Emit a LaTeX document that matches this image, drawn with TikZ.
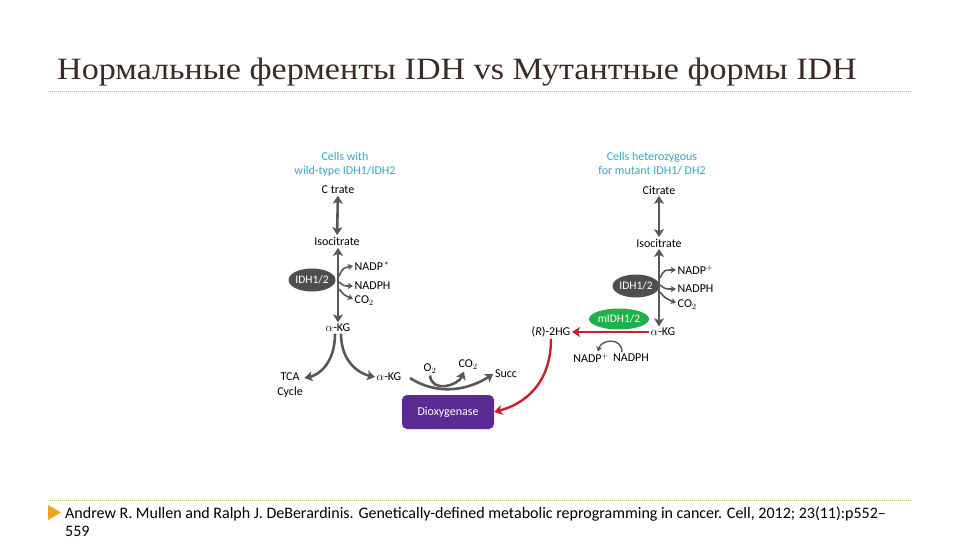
\documentclass[tikz,border=0pt]{standalone}
\usepackage{fontspec}
\setmainfont{Carlito}
\newfontfamily\titlefont[FakeStretch=1.1]{Liberation Serif}
\usetikzlibrary{arrows.meta,positioning,shapes.geometric,calc}
\definecolor{titleink}{HTML}{3B2A25}
\definecolor{rulec}{HTML}{D6C27E}
\definecolor{bulletc}{HTML}{F2A31E}
\definecolor{cellblue}{HTML}{3AA3C8}
\definecolor{flow}{HTML}{585858}
\definecolor{enz}{HTML}{4E4E4E}
\definecolor{mutg}{HTML}{1FB24A}
\definecolor{dioxy}{HTML}{5B2A93}
\definecolor{hgred}{HTML}{C81F2D}

\begin{document}
\begin{tikzpicture}[x=1pt, y=-1pt,
      met/.style={font=\fontsize{12}{15}\selectfont, text=black, inner sep=1.5pt, align=center},
      head/.style={font=\fontsize{12}{14}\selectfont, text=cellblue, align=center, inner sep=1pt},
      enzyme/.style={ellipse, fill=enz, text=white, minimum width=47pt, minimum height=23pt, inner sep=0pt, font=\fontsize{11.5}{12}\selectfont},
      menzyme/.style={ellipse, fill=mutg, text=white, minimum width=57pt, minimum height=21pt, inner sep=0pt, font=\fontsize{11.5}{12}\selectfont},
      dioxbox/.style={fill=dioxy, rounded corners=5pt, minimum width=92pt, minimum height=34pt, text=white, font=\fontsize{12}{13}\selectfont},
      dbl/.style={{Stealth[length=8pt,width=10pt,inset=2pt]}-{Stealth[length=8pt,width=10pt,inset=2pt]}, line width=2.6pt, draw=flow},
      arr/.style={-{Stealth[length=8pt,width=10pt,inset=2pt]}, line width=2.6pt, draw=flow},
      side/.style={-{Stealth[length=5pt,width=6pt,inset=1pt]}, line width=1.6pt, draw=flow},
      thin/.style={-{Stealth[length=5pt,width=6pt,inset=1pt]}, line width=1.4pt, draw=flow},
      redarr/.style={-{Stealth[length=8pt,width=10pt,inset=2pt]}, line width=2.4pt, draw=hgred}]
    \useasboundingbox (0,0) rectangle (960,540);
    % title and rules
    \node[anchor=base west, inner sep=0pt, text=titleink, font=\titlefont\fontsize{31}{36}\selectfont] (title) at (57,80) {Нормальные ферменты IDH vs Мутантные формы IDH};
    \draw[rulec, line width=0.8pt, dash pattern=on 1pt off 1pt] (48,91) -- (912,91);
    \draw[rulec, line width=0.8pt, dash pattern=on 1pt off 1pt] (48,500) -- (912,500);
    \fill[bulletc] (48,505) -- (61,512.5) -- (48,520) -- cycle;
    \node[anchor=base west, inner sep=0pt, align=left, font=\fontsize{16}{18}\selectfont] (cite) at (65,536) {Andrew R. Mullen and Ralph J. DeBerardinis. Genetically-defined metabolic reprogramming in cancer. Cell, 2012; 23(11):p552–\\559};

    % wild-type cells
    \node[head] (wthead) at (345,164) {Cells with\\wild-type IDH1/IDH2};
    \node[met] (lcit) at (338,190) {C trate};
    \node[met] (liso) at (337,241) {Isocitrate};
    \node[met] (lakg) at (338,328) {$\alpha$-KG};
    \node[enzyme] (lidh) at (312,280) {IDH1/2};
    \node[met, anchor=west] (lnadp) at (353,266) {NADP$^{\,*}$};
    \node[met, anchor=west] (lnadph) at (353,286) {NADPH};
    \node[met, anchor=west] (lco2) at (353,301) {CO$_2$};
    \coordinate (lb1) at (339,276);
    \coordinate (lb2) at (339,282);
    \coordinate (lb3) at (339,289);
    \draw[dbl] (lcit) -- (liso);
    \draw[dbl] ([yshift=-1pt]liso.south -| lakg) -- (lakg.north);
    \draw[side] (lb1) .. controls +(4,-8) .. (lnadp.west);
    \draw[side] (lb2) .. controls +(5,4) .. (lnadph.west);
    \draw[side] (lb3) .. controls +(5,6) .. ([yshift=2pt]lco2.west);

    % alpha-KG fate
    \node[met] (ltca) at (290,385) {TCA\\Cycle};
    \node[met] (lakg2) at (389,377) {$\alpha$-KG};
    \draw[arr] ([xshift=-3pt]lakg.south) .. controls +(0,30) and +(14,-3) .. ([yshift=7pt]ltca.east);
    \draw[arr] ([xshift=3pt]lakg.south) .. controls +(0,30) and +(-14,-3) .. (lakg2.west);

    % dioxygenase
    \node[dioxbox] (diox) at (448,412) {Dioxygenase};
    \node[met] (o2) at (430,369) {O$_2$};
    \node[met] (co2) at (468,365) {CO$_2$};
    \node[met] (succ) at (506,374) {Succ};
    \coordinate (dstart) at (410,378);
    \draw[arr] (dstart) .. controls (438,396) and (468,390) .. (succ.west);
    \draw[arr] (o2.south) .. controls +(2,18) and +(-6,14) .. ([xshift=-4pt]co2.south);

    % mutant cells
    \node[head] (muthead) at (652,164) {Cells heterozygous\\for mutant IDH1/ DH2};
    \node[met] (rcit) at (659,190) {Citrate};
    \node[met] (riso) at (659,243) {Isocitrate};
    \node[met] (rakg) at (663,332) {$\alpha$-KG};
    \node[enzyme] (ridh) at (636,286) {IDH1/2};
    \node[met, anchor=west] (rnadp) at (676,270) {NADP$^+$};
    \node[met, anchor=west] (rnadph) at (676,289) {NADPH};
    \node[met, anchor=west] (rco2) at (676,305) {CO$_2$};
    \coordinate (rb1) at (660,278);
    \coordinate (rb2) at (660,285);
    \coordinate (rb3) at (660,292);
    \draw[dbl] (rcit) -- (riso);
    \draw[dbl] (riso.south) -- (riso.south |- rakg.north);
    \draw[side] (rb1) .. controls +(4,-8) .. (rnadp.west);
    \draw[side] (rb2) .. controls +(5,4) .. (rnadph.west);
    \draw[side] (rb3) .. controls +(5,6) .. ([yshift=2pt]rco2.west);

    % mutant IDH branch
    \node[met] (r2hg) at (551,332) {(\textit{R})-2HG};
    \node[menzyme] (midh) at (619,319) {mIDH1/2};
    \draw[redarr] (rakg.west) -- (r2hg.east);
    \node[met] (mnadp) at (591,358) {NADP$^+$};
    \node[met] (mnadph) at (631,358) {NADPH};
    \draw[thin] ([xshift=-9pt]mnadph.north) .. controls +(0,-16) and +(3,-12) .. ([xshift=7pt]mnadp.north);
    \draw[redarr] (r2hg.south) .. controls +(0,45) and +(30,-8) .. (diox.east);
  \end{tikzpicture}
\end{document}
